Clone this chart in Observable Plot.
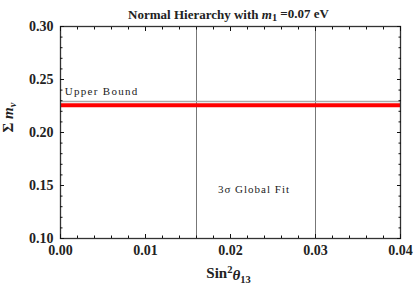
<!DOCTYPE html>
<html><head><meta charset="utf-8">
<script src="https://cdn.jsdelivr.net/npm/d3@7"></script>
<script src="https://cdn.jsdelivr.net/npm/@observablehq/plot@0.6"></script>
<style>body{margin:0;background:#fff}</style>
</head><body><div id="chart"></div>
<script>
const xMajor = [0, 0.01, 0.02, 0.03, 0.04];
const xMinor = [0.002,0.004,0.006,0.008,0.012,0.014,0.016,0.018,0.022,0.024,0.026,0.028,0.032,0.034,0.036,0.038];
const yMajor = [0.10, 0.15, 0.20, 0.25, 0.30];
const yMinor = [0.11,0.12,0.13,0.14,0.16,0.17,0.18,0.19,0.21,0.22,0.23,0.24,0.26,0.27,0.28,0.29];
const sigmaBounds = [0.016, 0.030];
const upperBound = [0.2293];
const sumMass = [0.2256];
const boundLabel = [{x: 0.0005, y: 0.2387, text: "Upper Bound"}];
const fitLabel = [{x: 0.02276, y: 0.1462, text: "3σ Global Fit"}];
const serif = "'Liberation Serif','Times New Roman',serif";
const blank = () => "";

const chart = Plot.plot({
  width: 415, height: 289,
  marginLeft: 60, marginRight: 15, marginTop: 26, marginBottom: 51,
  style: {fontFamily: serif, background: "#fff"},
  x: {domain: [0, 0.04]},
  y: {domain: [0.10, 0.30]},
  marks: [
    Plot.ruleX(sigmaBounds, {stroke: "#777", strokeWidth: 1}),
    Plot.ruleY(upperBound, {stroke: "#aaa", strokeWidth: 1.5}),
    Plot.ruleY(sumMass, {stroke: "#ff0000", strokeWidth: 4}),
    Plot.text(boundLabel, {x: "x", y: "y", text: "text", textAnchor: "start", fontSize: 11, fill: "#222"}),
    Plot.text(fitLabel, {x: "x", y: "y", text: "text", textAnchor: "middle", fontSize: 11, fill: "#222"}),
    Plot.frame({stroke: "#333", strokeWidth: 1.3}),
    Plot.axisX(xMajor, {anchor: "bottom", tickSize: 0, tickPadding: 7, tickFormat: d3.format(".2f"), fontSize: 14, fontWeight: "bold", fill: "#222", label: null}),
    Plot.axisX(xMajor, {anchor: "bottom", tickSize: 4, dy: -4, stroke: "#111", tickFormat: blank, label: null}),
    Plot.axisX(xMinor, {anchor: "bottom", tickSize: 2.5, dy: -2.5, stroke: "#111", tickFormat: blank, label: null}),
    Plot.axisX(xMajor, {anchor: "top", tickSize: 4, dy: 4, stroke: "#111", tickFormat: blank, label: null}),
    Plot.axisX(xMinor, {anchor: "top", tickSize: 2.5, dy: 2.5, stroke: "#111", tickFormat: blank, label: null}),
    Plot.axisY(yMajor, {anchor: "left", tickSize: 0, tickPadding: 7, tickFormat: d3.format(".2f"), fontSize: 14, fontWeight: "bold", fill: "#222", label: null}),
    Plot.axisY(yMajor, {anchor: "left", tickSize: 4, dx: 4, stroke: "#111", tickFormat: blank, label: null}),
    Plot.axisY(yMinor, {anchor: "left", tickSize: 2.5, dx: 2.5, stroke: "#111", tickFormat: blank, label: null}),
    Plot.axisY(yMajor, {anchor: "right", tickSize: 4, dx: -4, stroke: "#111", tickFormat: blank, label: null}),
    Plot.axisY(yMinor, {anchor: "right", tickSize: 2.5, dx: -2.5, stroke: "#111", tickFormat: blank, label: null}),
    Plot.text(["TITLE"], {frameAnchor: "top", dy: -17, dx: -2, fontSize: 13, fontWeight: "bold", fill: "#222"}),
    Plot.text(["XLABEL"], {frameAnchor: "bottom", dy: 39, dx: -2, fontSize: 15, fontWeight: "bold", fill: "#222"}),
    Plot.text(["YLABEL"], {frameAnchor: "left", dx: -52, rotate: -90, fontSize: 15, fontWeight: "bold", fill: "#222"})
  ]
});
document.getElementById("chart").append(chart);

const svg = d3.select(chart);
svg.selectAll("text").filter(function(){ return this.textContent === "Upper Bound"; }).style("letter-spacing", "1.3px");
svg.selectAll("text").filter(function(){ return this.textContent === "3σ Global Fit"; }).style("letter-spacing", "1px");
function rich(key, parts) {
  svg.selectAll("text").filter(function(){ return this.textContent === key; }).each(function(){
    const t = d3.select(this);
    t.text(null);
    for (const p of parts) {
      const s = t.append("tspan").text(p.t);
      if (p.i) s.attr("font-style", "italic");
      if (p.dy) s.attr("dy", p.dy);
      if (p.fs) s.attr("font-size", p.fs);
    }
  });
}
rich("TITLE", [{t: "Normal Hierarchy with "}, {t: "m", i: 1}, {t: "1", dy: "0.25em", fs: "0.8em"}, {t: " =0.07 eV", dy: "-0.25em"}]);
rich("XLABEL", [{t: "Sin"}, {t: "2", dy: "-0.45em", fs: "0.7em"}, {t: "θ", i: 1, dy: "0.45em"}, {t: "13", dy: "0.3em", fs: "0.7em"}]);
rich("YLABEL", [{t: "Σ "}, {t: "m", i: 1}, {t: "ν", i: 1, dy: "0.3em", fs: "0.7em"}]);
</script>
</body></html>
